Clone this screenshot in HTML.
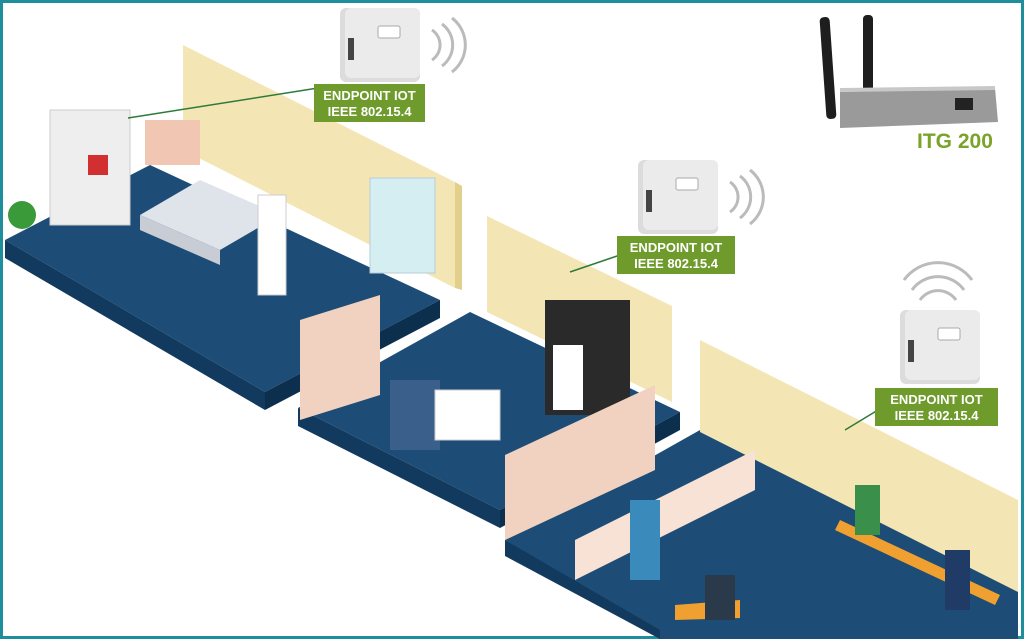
<!DOCTYPE html>
<html><head><style>
html,body{margin:0;padding:0;background:#fff}
svg{display:block}
text{font-family:"Liberation Sans",sans-serif;font-weight:bold}
</style></head><body>
<svg width="1024" height="639" viewBox="0 0 1024 639" xmlns="http://www.w3.org/2000/svg">
<rect x="1.5" y="1.5" width="1021" height="636" fill="#fff" stroke="#1f8e9c" stroke-width="3"/>
<!-- platform 1 -->
<polygon points="5,240 150,165 440,300 265,392" fill="#1d4d77"/>
<polygon points="5,240 265,392 265,410 5,258" fill="#123a5e"/>
<polygon points="265,392 440,300 440,318 265,410" fill="#0d2f4e"/>
<polygon points="183,45 455,182 455,288 183,150" fill="#f3e6b4"/>
<polygon points="455,182 462,186 462,290 455,288" fill="#e2cf8c"/>
<!-- platform 2 -->
<polygon points="298,408 470,312 680,412 500,510" fill="#1d4d77"/>
<polygon points="298,408 500,510 500,528 298,426" fill="#123a5e"/>
<polygon points="500,510 680,412 680,430 500,528" fill="#0d2f4e"/>
<polygon points="487,216 672,306 672,402 487,312" fill="#f3e6b4"/>
<!-- platform 3 -->
<polygon points="505,540 700,430 1018,590 1018,639 660,639" fill="#1d4d77"/>
<polygon points="505,540 660,630 660,639 505,556" fill="#123a5e"/>
<polygon points="700,340 1018,500 1018,592 700,432" fill="#f3e6b4"/>
<!-- furniture approximations -->
<rect x="50" y="110" width="80" height="115" fill="#eeeeee" stroke="#ccc"/>
<rect x="88" y="155" width="20" height="20" fill="#d23030"/>
<polygon points="140,215 200,180 280,215 220,250" fill="#dfe3ea"/>
<polygon points="140,215 220,250 220,265 140,230" fill="#c8ccd4"/>
<rect x="145" y="120" width="55" height="45" fill="#f1c7b3"/>
<rect x="258" y="195" width="28" height="100" fill="#fff" stroke="#ccc"/>
<rect x="370" y="178" width="65" height="95" fill="#d5eef2" stroke="#b5cfd6"/>
<polygon points="300,320 380,295 380,395 300,420" fill="#f1d2c0"/>
<rect x="545" y="300" width="85" height="115" fill="#2a2a2a"/>
<rect x="553" y="345" width="30" height="65" fill="#fff"/>
<polygon points="505,455 655,385 655,470 505,540" fill="#f1d2c0"/>
<polygon points="575,540 755,450 755,490 575,580" fill="#f7e2d5"/>
<rect x="390" y="380" width="50" height="70" fill="#3a5f8a"/>
<rect x="435" y="390" width="65" height="50" fill="#fff" stroke="#ccc"/>
<rect x="630" y="500" width="30" height="80" fill="#3a8bbb"/>
<polygon points="675,605 740,600 740,618 675,620" fill="#f0a030"/>
<polygon points="840,520 1000,595 995,605 835,530" fill="#f0a030"/>
<rect x="855" y="485" width="25" height="50" fill="#3a8f4a"/>
<rect x="945" y="550" width="25" height="60" fill="#1f3b66"/>
<rect x="705" y="575" width="30" height="45" fill="#2a3a4a"/>
<circle cx="22" cy="215" r="14" fill="#3a9a3a"/>
<!-- connectors -->
<line x1="128" y1="118" x2="318" y2="88" stroke="#2f7a3a" stroke-width="1.5"/>
<line x1="570" y1="272" x2="620" y2="255" stroke="#2f7a3a" stroke-width="1.5"/>
<line x1="845" y1="430" x2="878" y2="410" stroke="#2f7a3a" stroke-width="1.5"/>
<!-- devices -->
<g id="dev">
<rect x="340" y="8" width="80" height="74" rx="6" fill="#dcdcdc"/>
<rect x="345" y="8" width="75" height="70" rx="6" fill="#ebebeb"/>
<rect x="348" y="38" width="6" height="22" fill="#444"/>
<rect x="378" y="26" width="22" height="12" rx="2" fill="#fff" stroke="#aaa"/>
<path d="M432,30 a18,18 0 0 1 0,30 M442,24 a26,26 0 0 1 0,42 M452,18 a34,34 0 0 1 0,54" stroke="#bbb" stroke-width="3" fill="none"/>
</g>
<use href="#dev" x="298" y="152"/>
<g transform="translate(560,302)">
<rect x="340" y="8" width="80" height="74" rx="6" fill="#dcdcdc"/>
<rect x="345" y="8" width="75" height="70" rx="6" fill="#ebebeb"/>
<rect x="348" y="38" width="6" height="22" fill="#444"/>
<rect x="378" y="26" width="22" height="12" rx="2" fill="#fff" stroke="#aaa"/>
</g>
<path d="M920,300 a22,22 0 0 1 36,0 M912,290 a32,32 0 0 1 52,0 M904,280 a42,42 0 0 1 68,0" stroke="#bbb" stroke-width="3" fill="none"/>
<!-- labels -->
<rect x="314" y="84" width="111" height="38" fill="#6e9b2c"/>
<text x="369.5" y="100" fill="#fff" font-size="13" text-anchor="middle">ENDPOINT IOT</text>
<text x="369.5" y="116" fill="#fff" font-size="13" text-anchor="middle">IEEE 802.15.4</text>
<rect x="617" y="236" width="118" height="38" fill="#6e9b2c"/>
<text x="676" y="252" fill="#fff" font-size="13" text-anchor="middle">ENDPOINT IOT</text>
<text x="676" y="268" fill="#fff" font-size="13" text-anchor="middle">IEEE 802.15.4</text>
<rect x="875" y="388" width="123" height="38" fill="#6e9b2c"/>
<text x="936.5" y="404" fill="#fff" font-size="13" text-anchor="middle">ENDPOINT IOT</text>
<text x="936.5" y="420" fill="#fff" font-size="13" text-anchor="middle">IEEE 802.15.4</text>
<!-- router -->
<rect x="823" y="17" width="10" height="102" rx="4" fill="#1e1e1e" transform="rotate(-4 828 68)"/>
<rect x="863" y="15" width="10" height="80" rx="4" fill="#1e1e1e"/>
<polygon points="840,92 995,88 998,122 840,128" fill="#9a9a9a"/>
<polygon points="840,88 995,86 995,90 840,92" fill="#c8c8c8"/>
<rect x="955" y="98" width="18" height="12" fill="#222"/>
<text x="917" y="148" fill="#7aa32a" font-size="21">ITG 200</text>
</svg>
</body></html>
